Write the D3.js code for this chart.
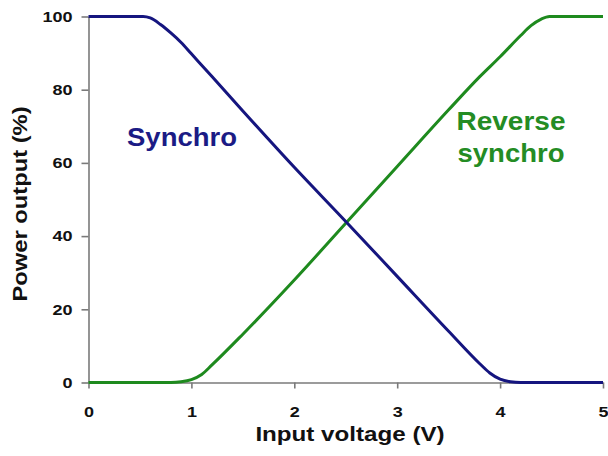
<!DOCTYPE html>
<html lang="en">
<head>
    <meta charset="UTF-8">
    <script src="https://cdn.jsdelivr.net/npm/d3@7"></script>
    <style>
        body { margin: 0; background: #fff; }
        text { font-family: "Liberation Sans", Arial, sans-serif; font-weight: bold; }
        .axis line, .axis path { stroke: #7a7a7a; stroke-width: 1.6px; }
        .axis text { font-size: 15px; fill: #111; }
    </style>
</head>
<body>

<svg width="608" height="456"></svg>

<script>

    // chart values
    var xTicks = [0, 1, 2, 3, 4, 5];
    var yTicks = [0, 20, 40, 60, 80, 100];

    var synchroV = [0, 0.53, 0.6, 0.7, 0.8, 0.9, 1.0, 1.2, 1.5, 2.0, 2.5, 3.0, 3.5, 3.8, 3.9, 4.0, 4.1, 4.2, 5];
    var synchroP = [100, 100, 99.6, 97.8, 95.5, 92.9, 89.8, 83.6, 74.2, 58.8, 44, 29, 14, 5.2, 2.6, 0.9, 0.2, 0, 0];

    var reverseV = [0, 0.8, 0.9, 1.0, 1.1, 1.2, 1.5, 2.0, 2.5, 3.0, 3.5, 3.8, 4.0, 4.2, 4.3, 4.4, 4.48, 5];
    var reverseP = [0, 0, 0.2, 0.8, 2.2, 4.8, 13.2, 28, 43.5, 59, 74.5, 83.5, 89, 94.8, 97.5, 99.3, 100, 100];

    var svg = d3.select("svg"),
        margin = {top: 16.5, right: 5, bottom: 73.5, left: 88.5},
        width = +svg.attr("width") - margin.left - margin.right,
        height = +svg.attr("height") - margin.top - margin.bottom;

    var g = svg.append("g")
        .attr("transform", "translate(" + margin.left + "," + margin.top + ")");

    var x = d3.scaleLinear().domain([0, 5]).range([0, width]);
    var y = d3.scaleLinear().domain([0, 100]).range([height, 0]);

    // stretch text a bit wider, the original font is broader than Arial
    function widen(sel, k) {
        sel.each(function() {
            var w = this.getComputedTextLength();
            d3.select(this).attr("textLength", w * k).attr("lengthAdjust", "spacingAndGlyphs");
        });
    }

    var xAxis = g.append("g")
        .attr("class", "axis")
        .attr("transform", "translate(0," + height + ")")
        .call(d3.axisBottom(x).tickValues(xTicks).tickFormat(d3.format("d"))
            .tickSize(6).tickPadding(18).tickSizeOuter(0));

    var yAxis = g.append("g")
        .attr("class", "axis")
        .call(d3.axisLeft(y).tickValues(yTicks).tickFormat(d3.format("d"))
            .tickSize(7).tickPadding(9).tickSizeOuter(0));

    xAxis.selectAll("text").call(widen, 1.2);
    yAxis.selectAll("text").call(widen, 1.2);

    // curves
    var line = d3.line()
        .x(function(d) { return x(d[0]); })
        .y(function(d) { return y(d[1]); })
        .curve(d3.curveMonotoneX);

    var synchro = synchroV.map(function(v, i) { return [v, synchroP[i]]; });
    var reverse = reverseV.map(function(v, i) { return [v, reverseP[i]]; });

    g.append("path")
        .datum(reverse)
        .attr("d", line)
        .attr("fill", "none")
        .attr("stroke", "#1e8a1e")
        .attr("stroke-width", 3);

    g.append("path")
        .datum(synchro)
        .attr("d", line)
        .attr("fill", "none")
        .attr("stroke", "#15157f")
        .attr("stroke-width", 3);

    // curve labels
    svg.append("text")
        .attr("x", 127)
        .attr("y", 146)
        .attr("font-size", 25)
        .attr("fill", "#1b1b85")
        .text("Synchro")
        .call(widen, 1.1);

    svg.append("text")
        .attr("x", 511)
        .attr("y", 130)
        .attr("text-anchor", "middle")
        .attr("font-size", 25)
        .attr("fill", "#248c24")
        .text("Reverse")
        .call(widen, 1.12);

    svg.append("text")
        .attr("x", 511)
        .attr("y", 162)
        .attr("text-anchor", "middle")
        .attr("font-size", 25)
        .attr("fill", "#248c24")
        .text("synchro")
        .call(widen, 1.1);

    // axis titles
    svg.append("text")
        .attr("x", 350)
        .attr("y", 441)
        .attr("text-anchor", "middle")
        .attr("font-size", 21)
        .attr("fill", "#111")
        .text("Input voltage (V)")
        .call(widen, 1.15);

    svg.append("text")
        .attr("transform", "translate(27,204) rotate(-90)")
        .attr("text-anchor", "middle")
        .attr("font-size", 21)
        .attr("fill", "#111")
        .text("Power output (%)")
        .call(widen, 1.13);

</script>

</body>
</html>
